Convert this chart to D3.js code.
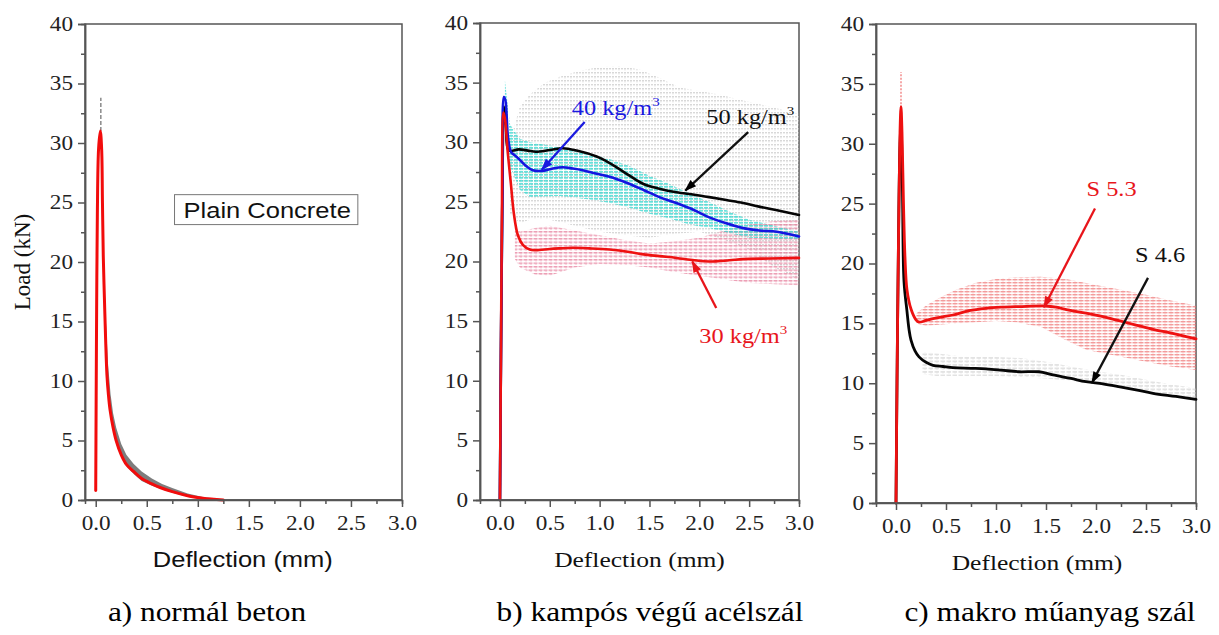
<!DOCTYPE html>
<html>
<head>
<meta charset="utf-8">
<script src="https://cdn.jsdelivr.net/npm/d3@7"></script>
<style>
  html, body { margin: 0; padding: 0; background: #fff; }
  svg { display: block; }
</style>
</head>
<body>
<svg id="chart" width="1219" height="635"></svg>
<script>
// ---------------- DATA ----------------
const xTicks = [0, 0.5, 1.0, 1.5, 2.0, 2.5, 3.0];
const yTicks = [0, 5, 10, 15, 20, 25, 30, 35, 40];
const captions = ["a) normál beton", "b) kampós végű acélszál", "c) makro műanyag szál"];

// Panel a – plain concrete
const plainMean = [[0.0,0.8],[0.004,8],[0.009,16],[0.016,24],[0.028,29.5],[0.045,31],[0.058,29.5],[0.066,25],[0.074,20.5],[0.085,17],[0.097,13.5],[0.11,10.5],[0.125,8.8],[0.14,7.6],[0.17,6.1],[0.2,5.0],[0.25,3.8],[0.3,3.0],[0.37,2.4],[0.45,1.8],[0.55,1.35],[0.63,1.05],[0.75,0.7],[0.92,0.32],[1.05,0.15],[1.25,0.0]];
const plainBandUpper = [[0.08,20],[0.1,15],[0.12,11.5],[0.145,8.9],[0.17,7.3],[0.2,6.1],[0.25,4.7],[0.3,3.8],[0.37,3.05],[0.45,2.4],[0.55,1.8],[0.65,1.35],[0.75,1.0],[0.9,0.55],[1.05,0.25],[1.25,0.05]];
const plainBandLower = [[0.08,16.5],[0.1,13],[0.12,10],[0.145,7.6],[0.17,6.0],[0.2,4.9],[0.25,3.6],[0.3,2.85],[0.37,2.2],[0.45,1.6],[0.55,1.2],[0.65,0.9],[0.75,0.6],[0.9,0.28],[1.05,0.1],[1.25,0.0]];
const plainPeakTests = [[0.05,30.5],[0.05,33.8]];

// Panel b – hooked-end steel fibre
const steel30 = [[0.0,0.0],[0.01,12],[0.02,24],[0.035,32.5],[0.05,32.0],[0.08,29],[0.11,26.5],[0.14,24],[0.18,22.2],[0.23,21.4],[0.3,21.0],[0.36,20.95],[0.5,21.05],[0.6,21.1],[0.73,21.15],[0.9,21.1],[1.1,21.0],[1.3,20.8],[1.44,20.6],[1.6,20.45],[1.77,20.3],[1.95,20.1],[2.1,20.0],[2.3,20.1],[2.44,20.2],[2.7,20.25],[3.0,20.3]];
const steel40 = [[0.0,0.0],[0.01,12],[0.025,26],[0.04,33.8],[0.055,33.5],[0.08,30.5],[0.11,29.2],[0.15,28.9],[0.19,28.6],[0.25,28.1],[0.33,27.66],[0.43,27.6],[0.53,27.8],[0.63,27.9],[0.73,27.8],[0.83,27.66],[0.95,27.4],[1.1,27.1],[1.27,26.6],[1.44,26.0],[1.6,25.4],[1.77,24.9],[1.95,24.3],[2.1,23.7],[2.27,23.2],[2.44,22.8],[2.6,22.6],[2.78,22.5],[3.0,22.1]];
const steel50 = [[0.0,0.0],[0.01,12],[0.025,26],[0.04,33.0],[0.06,31.5],[0.09,29.3],[0.19,29.4],[0.28,29.3],[0.36,29.2],[0.5,29.35],[0.63,29.5],[0.77,29.3],[0.97,28.8],[1.07,28.4],[1.17,27.9],[1.3,27.2],[1.44,26.5],[1.6,26.1],[1.77,25.8],[1.95,25.6],[2.1,25.4],[2.27,25.15],[2.44,24.9],[2.6,24.6],[2.78,24.3],[3.0,23.9]];
const steel30BandUpper = [[0.15,23],[0.2,22.5],[0.35,22.8],[0.5,23.0],[0.75,22.6],[1.0,22.2],[1.25,21.8],[1.5,21.5],[1.75,21.7],[2.0,22.0],[2.25,22.6],[2.5,23.1],[2.75,23.4],[3.0,23.5]];
const steel30BandLower = [[0.15,20.2],[0.2,19.5],[0.35,18.9],[0.5,18.8],[0.75,19.5],[1.0,19.8],[1.25,19.7],[1.5,19.5],[1.75,19.1],[2.0,18.8],[2.25,18.5],[2.5,18.2],[2.75,18.1],[3.0,18.0]];
const steel40BandUpper = [[0.05,35.2],[0.1,31.5],[0.2,30.3],[0.3,30.0],[0.6,29.6],[0.9,29.0],[1.1,28.6],[1.3,28.0],[1.5,27.2],[1.7,26.5],[1.9,25.7],[2.1,25.0],[2.3,24.2],[2.5,23.5],[2.75,23.0],[3.0,22.5]];
const steel40BandLower = [[0.05,31.0],[0.1,28.0],[0.2,26.0],[0.3,25.4],[0.6,25.5],[0.9,25.2],[1.1,24.9],[1.3,24.5],[1.5,24.0],[1.7,23.6],[1.9,23.1],[2.1,22.8],[2.3,22.4],[2.5,22.0],[2.75,21.9],[3.0,21.8]];
const steel50BandUpper = [[0.1,30.0],[0.2,33.0],[0.3,34.0],[0.45,35.0],[0.6,35.5],[0.8,36.0],[1.0,36.3],[1.2,36.4],[1.4,36.1],[1.6,35.4],[1.8,34.6],[2.0,34.3],[2.2,34.0],[2.44,33.5],[2.7,33.0],[3.0,32.4]];
const steel50BandLower = [[0.1,24.0],[0.2,23.2],[0.3,23.5],[0.5,23.5],[0.75,23.0],[1.0,22.5],[1.25,22.2],[1.5,22.0],[1.75,22.3],[2.0,22.5],[2.25,21.8],[2.5,21.0],[2.75,19.5],[3.0,18.5]];

// Panel c – macro synthetic fibre
const synth53 = [[0.0,0.0],[0.01,10],[0.025,22],[0.04,31],[0.05,33.1],[0.06,31],[0.075,25],[0.09,20.5],[0.11,17.8],[0.15,16.2],[0.2,15.3],[0.23,15.1],[0.3,15.25],[0.37,15.4],[0.47,15.55],[0.57,15.7],[0.73,16.06],[0.9,16.26],[1.05,16.35],[1.23,16.4],[1.5,16.45],[1.6,16.35],[1.73,16.1],[1.9,15.85],[2.07,15.56],[2.24,15.2],[2.4,14.86],[2.57,14.5],[2.74,14.2],[2.87,13.95],[3.0,13.7]];
const synth46 = [[0.0,0.0],[0.01,10],[0.025,22],[0.04,30],[0.05,31.5],[0.065,26],[0.08,18.5],[0.11,16.0],[0.13,14.5],[0.15,13.6],[0.19,12.7],[0.23,12.2],[0.3,11.75],[0.37,11.5],[0.47,11.4],[0.57,11.3],[0.75,11.25],[0.9,11.2],[1.05,11.1],[1.23,10.96],[1.43,10.96],[1.57,10.7],[1.75,10.4],[1.9,10.13],[2.07,9.95],[2.24,9.7],[2.4,9.45],[2.57,9.16],[2.8,8.9],[3.0,8.66]];
const synth53BandUpper = [[0.2,15.8],[0.3,16.5],[0.45,17.2],[0.6,17.8],[0.8,18.4],[1.0,18.7],[1.2,18.85],[1.45,18.9],[1.7,18.7],[2.0,18.2],[2.25,17.8],[2.5,17.4],[2.75,16.9],[3.0,16.5]];
const synth53BandLower = [[0.2,15.0],[0.3,14.8],[0.45,14.9],[0.6,15.0],[0.8,15.1],[1.0,15.2],[1.2,15.1],[1.45,14.7],[1.7,13.6],[1.9,12.8],[2.2,12.3],[2.5,11.8],[2.75,11.4],[3.0,11.1]];
const synth46BandUpper = [[0.25,12.6],[0.4,12.5],[0.6,12.3],[0.8,12.2],[1.0,12.2],[1.25,12.1],[1.5,11.8],[1.75,11.4],[2.0,11.0],[2.25,10.7],[2.5,10.3],[2.75,9.9],[3.0,9.6]];
const synth46BandLower = [[0.25,10.8],[0.4,10.6],[0.6,10.6],[0.8,10.6],[1.0,10.6],[1.25,10.5],[1.5,10.4],[1.75,10.2],[2.0,9.9],[2.25,9.6],[2.5,9.2],[2.75,8.9],[3.0,8.5]];
const synthPeakTests = [[0.05,33.0],[0.05,36.0]];

// annotations (label text, label anchor [x,y], arrow from [x,y], arrow to [x,y])
const steelLabels = ["40 kg/m", "50 kg/m", "30 kg/m"];
const steelLabelPos = [[0.72,32.3],[2.07,31.55],[2.0,13.2]];
const steelArrowFrom = [[0.85,31.7],[2.49,30.85],[2.17,16.1]];
const steelArrowTo = [[0.42,27.7],[1.86,25.95],[1.93,20.0]];
const synthLabels = ["S 5.3", "S 4.6"];
const synthLabelPos = [[1.905,25.6],[2.39,20.1]];
const synthArrowFrom = [[1.99,24.6],[2.52,18.8]];
const synthArrowTo = [[1.48,16.35],[1.96,10.05]];

// ---------------- DRAWING ----------------
const svg = d3.select("#chart");
const SERIF = "'Liberation Serif', 'Times New Roman', serif";
const SANS = "'Liberation Sans', Arial, sans-serif";
const AXIS_COLOR = "#555";
const STRETCH = 1.16; // the source image text is slightly wide
const defs = svg.append("defs");

function placeText(parent, px, py) {
  return parent.append("text").attr("x", 0).attr("y", 0)
    .attr("transform", `translate(${px},${py}) scale(${STRETCH},1)`);
}

function makePattern(id, color, w, h, dash, sw) {
  const p = defs.append("pattern").attr("id", id).attr("patternUnits", "userSpaceOnUse")
    .attr("width", w).attr("height", h);
  p.append("line").attr("x1", 0).attr("x2", w).attr("y1", 0.8).attr("y2", 0.8)
    .attr("stroke", color).attr("stroke-width", sw).attr("stroke-dasharray", dash);
  p.append("line").attr("x1", 1).attr("x2", 1).attr("y1", 1.5).attr("y2", h)
    .attr("stroke", color).attr("stroke-width", 0.5).attr("stroke-dasharray", "1,1.5");
}
makePattern("patGray", "#c2c2c2", 6, 4, "2,1", 0.9);
makePattern("patCyan", "#36d8d0", 5, 3, "3,1", 1.2);
makePattern("patPink", "#e67e9c", 5, 3.5, "2.5,1", 1.0);
makePattern("patRed", "#ee7272", 6, 3, "3.5,1", 1.0);
makePattern("patLightGray", "#c8c8c8", 6, 3.5, "3,1.5", 0.9);

function marker(id, color) {
  defs.append("marker").attr("id", id).attr("viewBox", "0 0 10 10").attr("refX", 9).attr("refY", 5)
    .attr("markerWidth", 15).attr("markerHeight", 12).attr("markerUnits", "userSpaceOnUse")
    .attr("orient", "auto")
    .append("path").attr("d", "M0,1.5 L10,5 L0,8.5 Z").attr("fill", color);
}
marker("arrBlue", "#1a1adf");
marker("arrBlack", "#000");
marker("arrRed", "#e8151b");

function panel(cfg) {
  const g = svg.append("g");
  const x = d3.scaleLinear().domain(cfg.xDomain).range([cfg.left, cfg.right]);
  const y = d3.scaleLinear().domain([0, 40]).range([cfg.bottom, cfg.top]);

  // frame
  g.append("rect").attr("x", cfg.left).attr("y", cfg.top)
    .attr("width", cfg.right - cfg.left).attr("height", cfg.bottom - cfg.top)
    .attr("fill", "none").attr("stroke", AXIS_COLOR).attr("stroke-width", 1.5);

  const content = g.append("g");
  // axes
  const xAx = g.append("g").attr("transform", `translate(0,${cfg.bottom})`)
    .call(d3.axisBottom(x).tickValues(xTicks).tickSize(7).tickPadding(9).tickFormat(d3.format(".1f")));
  const xMinor = g.append("g").attr("transform", `translate(0,${cfg.bottom})`)
    .call(d3.axisBottom(x).tickValues(d3.range(0.25, 3, 0.5)).tickSize(4).tickFormat(""));
  const yAx = g.append("g").attr("transform", `translate(${cfg.left},0)`)
    .call(d3.axisLeft(y).tickValues(yTicks).tickSize(7).tickPadding(5));
  const yMinor = g.append("g").attr("transform", `translate(${cfg.left},0)`)
    .call(d3.axisLeft(y).tickValues(d3.range(2.5, 40, 5)).tickSize(4).tickFormat(""));
  [xAx, xMinor, yAx, yMinor].forEach(a => {
    a.select(".domain").attr("stroke", AXIS_COLOR).attr("stroke-width", 1.5);
    a.selectAll(".tick line").attr("stroke", AXIS_COLOR).attr("stroke-width", 1.5);
    a.selectAll(".tick text").attr("fill", "#222").attr("font-family", SERIF).attr("font-size", 20)
      .attr("transform", `scale(${STRETCH},1)`);
  });
  yAx.selectAll(".tick text").attr("x", -12 / STRETCH);
  xAx.select(".domain").attr("d", `M${cfg.left},0H${cfg.right}`);

  // axis title
  placeText(g, (x(0) + cfg.right) / 2 + cfg.titleDx, cfg.bottom + 67)
    .attr("text-anchor", "middle").attr("font-family", cfg.titleFont)
    .attr("font-size", cfg.titleSize).attr("fill", "#111").text("Deflection (mm)");

  return { g: content, x, y };
}

const lineGen = (p) => d3.line().x(d => p.x(d[0])).y(d => p.y(d[1])).curve(d3.curveCatmullRom.alpha(0.5));
function band(p, upper, lower, fill, op) {
  const pts = upper.concat(lower.slice().reverse());
  p.g.append("path").attr("d", d3.line().x(d => p.x(d[0])).y(d => p.y(d[1])).curve(d3.curveLinearClosed)(pts))
    .attr("fill", fill).attr("opacity", op == null ? 1 : op);
}
function curve(p, data, color, w) {
  p.g.append("path").attr("d", lineGen(p)(data)).attr("fill", "none")
    .attr("stroke", color).attr("stroke-width", w).attr("stroke-linejoin", "round").attr("stroke-linecap", "round");
}
function annotate(p, labels, pos, from, to, colors, markers) {
  labels.forEach((t, i) => {
    p.g.append("line").attr("x1", p.x(from[i][0])).attr("y1", p.y(from[i][1]))
      .attr("x2", p.x(to[i][0])).attr("y2", p.y(to[i][1]))
      .attr("stroke", colors[i]).attr("stroke-width", 2.3).attr("marker-end", `url(#${markers[i]})`);
    const tx = placeText(p.g, p.x(pos[i][0]), p.y(pos[i][1]))
      .attr("font-family", SERIF).attr("font-size", 21).attr("fill", colors[i]).text(t);
    if (t.endsWith("kg/m")) tx.append("tspan").attr("dy", -9).attr("font-size", 13).text("3");
  });
}

// ---- Panel a ----
const pa = panel({ left: 85, right: 402, top: 24, bottom: 500, xDomain: [-0.105, 3.0], titleFont: SANS, titleSize: 22, titleDx: -6 });
band(pa, plainBandUpper, plainBandLower, "#6f6f6f", 0.9);
pa.g.append("path").attr("d", d3.line().x(d => pa.x(d[0])).y(d => pa.y(d[1]))(plainPeakTests))
  .attr("stroke", "#8a8a8a").attr("stroke-width", 1.5).attr("stroke-dasharray", "4,2");
curve(pa, plainMean, "#f20c0c", 3.0);
const leg = pa.g.append("g");
const legText = placeText(leg, pa.x(0.86), pa.y(23.7))
  .attr("font-family", SANS).attr("font-size", 22).attr("fill", "#111").text("Plain Concrete");
const bb = legText.node().getBoundingClientRect();
leg.insert("rect", "text").attr("x", bb.left - 9).attr("y", bb.top - 3).attr("width", bb.width + 16).attr("height", bb.height + 5)
  .attr("fill", "#fff").attr("stroke", "#777").attr("stroke-width", 1);
svg.append("text").attr("transform", `translate(30,${(24 + 500) / 2}) rotate(-90)`)
  .attr("text-anchor", "middle").attr("font-family", SERIF).attr("font-size", 23).attr("fill", "#111").text("Load (kN)");

// ---- Panel b ----
const pb = panel({ left: 480, right: 799, top: 23, bottom: 500, xDomain: [-0.2, 3.0], titleFont: SERIF, titleSize: 22, titleDx: -10 });
band(pb, steel50BandUpper, steel50BandLower, "url(#patGray)");
band(pb, steel30BandUpper, steel30BandLower, "url(#patPink)");
band(pb, steel40BandUpper, steel40BandLower, "url(#patCyan)");
curve(pb, steel50, "#050505", 2.6);
curve(pb, steel40, "#1515e0", 2.6);
curve(pb, steel30, "#ee1111", 2.6);
annotate(pb, steelLabels, steelLabelPos, steelArrowFrom, steelArrowTo,
  ["#1a1adf", "#111", "#e8151b"], ["arrBlue", "arrBlack", "arrRed"]);

// ---- Panel c ----
const pc = panel({ left: 876, right: 1196, top: 24, bottom: 503, xDomain: [-0.2, 3.0], titleFont: SERIF, titleSize: 22, titleDx: -9 });
band(pc, synth53BandUpper, synth53BandLower, "url(#patRed)");
band(pc, synth46BandUpper, synth46BandLower, "url(#patLightGray)");
pc.g.append("path").attr("d", d3.line().x(d => pc.x(d[0])).y(d => pc.y(d[1]))(synthPeakTests))
  .attr("stroke", "#f28a8a").attr("stroke-width", 1.5).attr("stroke-dasharray", "2,1.5");
curve(pc, synth46, "#050505", 2.8);
curve(pc, synth53, "#ee1111", 2.8);
annotate(pc, synthLabels, synthLabelPos, synthArrowFrom, synthArrowTo,
  ["#e8151b", "#111"], ["arrRed", "arrBlack"]);

// captions
const capX = [207, 650, 1050];
captions.forEach((c, i) => {
  placeText(svg, capX[i], 621).attr("text-anchor", "middle")
    .attr("font-family", SERIF).attr("font-size", 27).attr("fill", "#000").text(c);
});
</script>
</body>
</html>
